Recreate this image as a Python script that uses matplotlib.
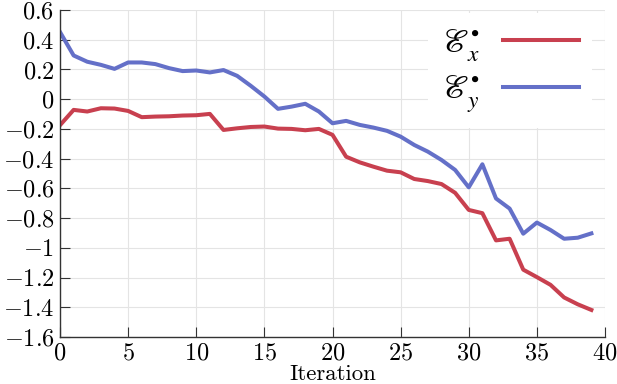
import matplotlib
matplotlib.use("Agg")
import matplotlib.pyplot as plt
from matplotlib.ticker import FuncFormatter, MultipleLocator
from matplotlib.font_manager import FontProperties

iterations = list(range(40))
ex_values = [-0.175, -0.072, -0.083, -0.061, -0.063, -0.079, -0.121, -0.117, -0.115, -0.110,
             -0.108, -0.099, -0.207, -0.196, -0.187, -0.184, -0.198, -0.200, -0.209, -0.200,
             -0.240, -0.387, -0.425, -0.454, -0.481, -0.492, -0.537, -0.551, -0.571, -0.630,
             -0.745, -0.767, -0.950, -0.939, -1.147, -1.197, -1.249, -1.334, -1.380, -1.418]
ey_values = [0.452, 0.294, 0.252, 0.231, 0.204, 0.247, 0.247, 0.236, 0.209, 0.189,
             0.193, 0.180, 0.196, 0.157, 0.090, 0.018, -0.065, -0.050, -0.031, -0.083,
             -0.162, -0.146, -0.173, -0.191, -0.213, -0.252, -0.308, -0.353, -0.409, -0.476,
             -0.593, -0.438, -0.668, -0.736, -0.905, -0.830, -0.880, -0.939, -0.932, -0.903]
labels = [r'$\mathscr{E}_x^{\bullet}$', r'$\mathscr{E}_y^{\bullet}$']
xlabel = 'Iteration'

plt.rcParams['mathtext.fontset'] = 'cm'
plt.rcParams['font.family'] = ['cmr10', 'DejaVu Serif']
plt.rcParams['axes.unicode_minus'] = True

fig = plt.figure(figsize=(6.17, 3.84), dpi=100)
ax = fig.add_axes([60/617, 1-337/384, 545/617, 327/384])

red = '#c8404f'
blue = '#6470c8'
ax.plot(iterations, ex_values, color=red, lw=2.9, label=labels[0], solid_joinstyle='round')
ax.plot(iterations, ey_values, color=blue, lw=2.9, label=labels[1], solid_joinstyle='round')

ax.set_xlim(0, 40)
ax.set_ylim(-1.6, 0.6)
ax.xaxis.set_major_locator(MultipleLocator(5))
ax.yaxis.set_major_locator(MultipleLocator(0.2))

def yfmt(v, pos):
    s = '%g' % round(v, 2)
    if s == '-0':
        s = '0'
    return '$' + s + '$'

def xfmt(v, pos):
    return '$%d$' % round(v)

ax.yaxis.set_major_formatter(FuncFormatter(yfmt))
ax.xaxis.set_major_formatter(FuncFormatter(xfmt))

ax.grid(True, color='#e4e4e4', lw=0.8)
ax.set_axisbelow(True)
for s in ['top', 'right']:
    ax.spines[s].set_visible(False)
for s in ['left', 'bottom']:
    ax.spines[s].set_color('#333333')
    ax.spines[s].set_linewidth(1.0)
ax.tick_params(direction='in', length=7, width=0.8, color='#333333', labelsize=17.5, pad=4)

ax.set_xlabel(xlabel, fontsize=16.5, labelpad=0)

leg = ax.legend(loc='upper right', markerfirst=False, frameon=True, framealpha=1,
                facecolor='white', edgecolor='none', fancybox=False,
                prop=FontProperties(size=24, math_fontfamily='stix'),
                handlelength=2.28, handletextpad=0.7, labelspacing=0.32,
                borderaxespad=0.3, bbox_to_anchor=(0.995, 1.02))

fig.savefig('out.png', dpi=100)
